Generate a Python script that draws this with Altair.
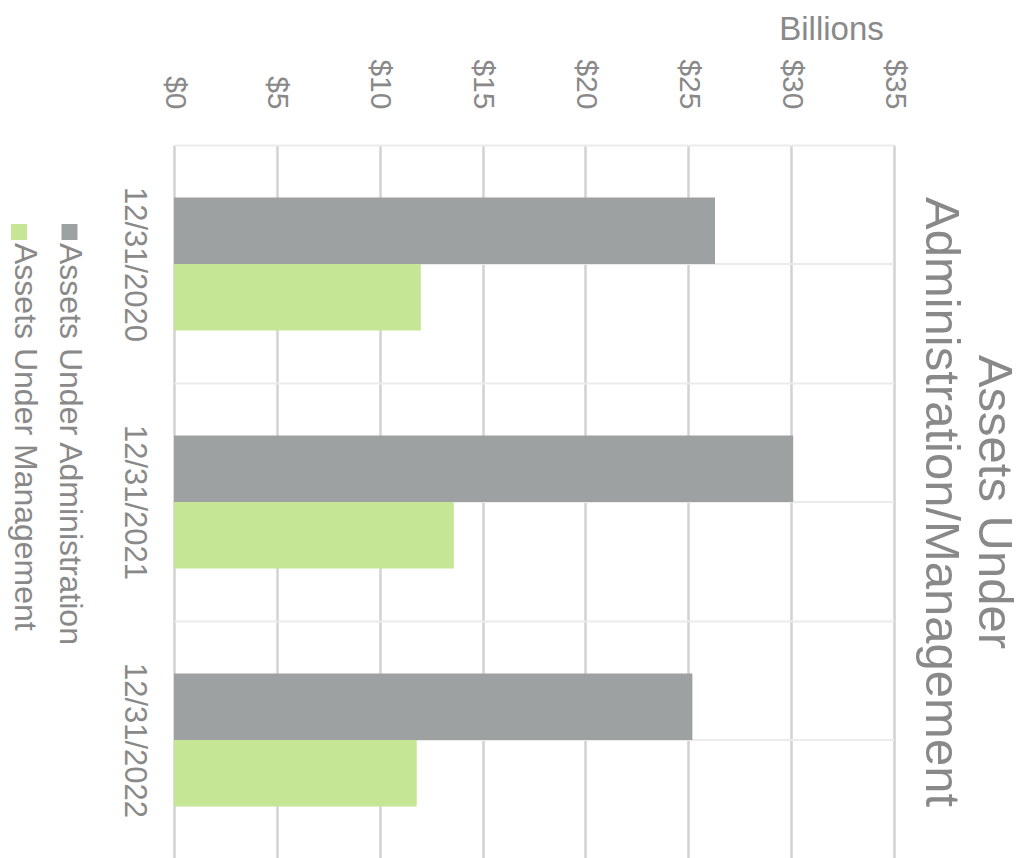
import altair as alt
import pandas as pd

categories = ["12/31/2020", "12/31/2021", "12/31/2022"]
series = ["Assets Under Administration", "Assets Under Management"]
aua_values = [26.3, 30.1, 25.2]
aum_values = [12.0, 13.6, 11.8]
colors = ["#9EA1A2", "#C5E694"]
tick_values = [0, 5, 10, 15, 20, 25, 30, 35]
title_lines = ["Assets Under", "Administration/Management"]
axis_title = "Billions"

rows = []
for i, c in enumerate(categories):
    rows.append({"date": c, "series": series[0], "value": aua_values[i]})
    rows.append({"date": c, "series": series[1], "value": aum_values[i]})
df = pd.DataFrame(rows)
cat_df = pd.DataFrame({"date": categories})

W, H = 720, 714
TXT = "#898989"
FONT = "Liberation Sans"

y_scale = alt.Scale(domain=categories, paddingInner=0, paddingOuter=0)

bars = alt.Chart(df).mark_bar(strokeWidth=0).encode(
    x=alt.X("value:Q",
            scale=alt.Scale(domain=[0, 35], nice=False, zero=True),
            axis=alt.Axis(orient="top", values=tick_values,
                          labelExpr="'$' + datum.value",
                          labelAngle=90, labelAlign="right", labelBaseline="middle",
                          labelPadding=36, labelFontSize=30, labelColor=TXT, labelFont=FONT,
                          ticks=False, domain=False, grid=True,
                          gridColor="#D2D2D2", gridWidth=2.5,
                          title=axis_title, titleX=657, titleY=-106, titleAngle=0,
                          titleAlign="center", titleBaseline="alphabetic",
                          titleFontSize=33, titleFontWeight="normal",
                          titleColor=TXT, titleFont=FONT)),
    y=alt.Y("date:N", sort=categories, scale=y_scale,
            axis=alt.Axis(orient="left", labelAngle=90, labelAlign="center",
                          labelBaseline="top", labelPadding=26, labelFontSize=31,
                          labelColor=TXT, labelFont=FONT, ticks=False, domain=False,
                          grid=True, gridColor="#EBEBEB", gridWidth=2,
                          tickBand="extent", title=None)),
    yOffset=alt.YOffset("series:N", sort=series,
                        scale=alt.Scale(domain=series, paddingOuter=0.79, paddingInner=0)),
    color=alt.Color("series:N", scale=alt.Scale(domain=series, range=colors), legend=None),
)

center_grid = alt.Chart(cat_df).mark_rule(color="#EBEBEB", strokeWidth=2).encode(
    y=alt.Y("date:N", sort=categories, scale=y_scale),
    x=alt.value(0),
    x2=alt.value(W),
)

legend_layers = []
sq_x = [-104.5, -155]
txt_x = [-114, -159]
for i, s in enumerate(series):
    sdf = pd.DataFrame({"series": [s]})
    legend_layers.append(
        alt.Chart(sdf).mark_square(size=256, color=colors[i], opacity=1).encode(
            x=alt.value(sq_x[i]), y=alt.value(87))
    )
    legend_layers.append(
        alt.Chart(sdf).mark_text(angle=90, align="left", baseline="alphabetic",
                                 fontSize=32, font=FONT, color=TXT).encode(
            x=alt.value(txt_x[i]), y=alt.value(98), text="series:N")
    )

chart = alt.layer(center_grid, bars, *legend_layers).properties(
    width=W, height=H,
    title=alt.Title(title_lines, orient="right", anchor="middle", fontSize=49,
                    font=FONT, fontWeight="normal", color=TXT, offset=7,
                    lineHeight=53),
    autosize=alt.AutoSizeParams(type="none"),
    padding={"left": 166, "top": 137, "right": 129, "bottom": 0},
).configure_view(
    stroke="#CFCFCF", strokeWidth=3
).configure(background="white")

chart.save("out.html", embed_options={"renderer": "svg", "actions": False})
